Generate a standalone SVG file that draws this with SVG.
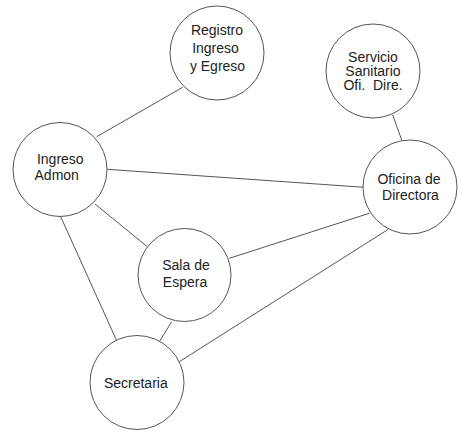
<svg xmlns="http://www.w3.org/2000/svg" width="461" height="431" viewBox="0 0 461 431">
<style>
.n circle{fill:#fff;stroke:#555;stroke-width:1}
.n text{font-family:"Liberation Sans",Arial,sans-serif;font-size:14px;fill:#222;text-anchor:middle}
#edges line{stroke:#555;stroke-width:1}
</style>
<rect width="461" height="431" fill="#fff"/>
<g id="edges">
<line x1="182.7" y1="87.3" x2="96.7" y2="136.7"/>
<line x1="107.3" y1="169.3" x2="364" y2="187.3"/>
<line x1="95" y1="204" x2="147.3" y2="246.7"/>
<line x1="60.7" y1="216.7" x2="116.7" y2="340.7"/>
<line x1="229.3" y1="258.3" x2="369.3" y2="213.3"/>
<line x1="171.7" y1="321.7" x2="159.3" y2="341.7"/>
<line x1="388.3" y1="229.3" x2="179.3" y2="361.7"/>
<line x1="392.7" y1="115" x2="401.7" y2="140"/>
</g>
<g id="registro" class="n"><circle cx="217" cy="53" r="47"/>
<text x="217" y="34.5">Registro</text><text x="215.5" y="52.5">Ingreso</text><text x="217.5" y="70.5">y Egreso</text></g>
<g id="servicio" class="n"><circle cx="373" cy="71" r="47"/>
<text x="373" y="62">Servicio</text><text x="373" y="75.5">Sanitario</text><text x="373" y="89.5">Ofi.&#160; Dire.</text></g>
<g id="ingreso" class="n"><circle cx="60" cy="169.5" r="47"/>
<text x="60.3" y="163.5">Ingreso</text><text x="56.7" y="180">Admon</text></g>
<g id="oficina" class="n"><circle cx="410" cy="187" r="47"/>
<text x="409" y="183.5">Oficina de</text><text x="410.5" y="200">Directora</text></g>
<g id="sala" class="n"><circle cx="184.5" cy="275" r="46.5"/>
<text x="186" y="270">Sala de</text><text x="185" y="286.5">Espera</text></g>
<g id="secretaria" class="n"><circle cx="137" cy="382.5" r="47"/>
<text x="135.8" y="388">Secretaria</text></g>
</svg>
